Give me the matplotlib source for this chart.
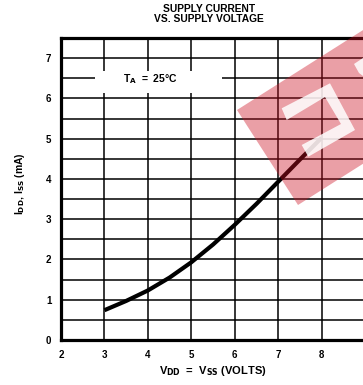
import numpy as np
import matplotlib
matplotlib.use("Agg")
import matplotlib.pyplot as plt
from matplotlib.patches import Polygon, Rectangle

plt.rcParams['font.family'] = ['Liberation Sans', 'DejaVu Sans']
plt.rcParams['font.weight'] = 'bold'
plt.rcParams['mathtext.default'] = 'bf'

# supply current
vdd = [3, 3.5, 4, 4.5, 5, 5.5, 6, 6.5, 7, 7.5, 8]
idd = [0.74, 0.97, 1.23, 1.55, 1.93, 2.37, 2.86, 3.38, 3.93, 4.48, 5.02]

x_ticks = [2, 3, 4, 5, 6, 7, 8, 9]
x_labels = ['2', '3', '4', '5', '6', '7', '8', '']
y_ticks = [0, 1, 2, 3, 4, 5, 6, 7]
y_half = [0.5, 1.5, 2.5, 3.5, 4.5, 5.5, 6.5]

W, H = 363, 385
fig = plt.figure(figsize=(W / 100, H / 100), dpi=100)
ax = fig.add_axes([61 / W, 1 - 340 / H, 304 / W, 302 / H])
ax.set_xlim(2, 9)
ax.set_ylim(0, 7.5)

# grid
for x in x_ticks[1:]:
    ax.axvline(x, color='black', lw=1.1, zorder=1)
for y in y_ticks[1:] + y_half:
    ax.axhline(y, color='black', lw=1.1, zorder=1)

# white box behind the temperature label
ax.add_patch(Rectangle((2.78, 6.14), 2.92, 0.54, facecolor='white',
                       edgecolor='none', zorder=2))
ax.text(4.05, 6.47, r'T$_A$  =  25°C', fontsize=7.5, ha='center',
        va='center', zorder=3)

ax.plot(vdd, idd, color='black', lw=3.0, solid_capstyle='butt', zorder=4)

for s in ['left', 'bottom', 'top']:
    ax.spines[s].set_linewidth(2.3)
ax.spines['right'].set_visible(False)

ax.set_xticks(x_ticks)
ax.set_xticklabels(x_labels)
ax.set_yticks(y_ticks)
ax.tick_params(length=0, labelsize=7, pad=7)
for lab in ax.get_xticklabels() + ax.get_yticklabels():
    lab.set_fontweight('bold')

fig.text(213 / W, 1 - 371 / H, r'V$_{DD}$  =  V$_{SS}$ (VOLTS)',
         fontsize=8, ha='center', va='center')
fig.text(20 / W, 1 - 184 / H, r'I$_{DD}$, I$_{SS}$ (mA)', fontsize=7.5,
         ha='center', va='center', rotation=90)
fig.text(209 / W, 1 - 14 / H, 'SUPPLY CURRENT\nVS. SUPPLY VOLTAGE',
         fontsize=7.4, ha='center', va='center', linespacing=0.9)


# watermark (pixel coords -> figure fraction)
def px(pts):
    return [(x / W, 1 - y / H) for x, y in pts]


fig.patches.append(Polygon(px([(237, 110), (401, 6), (462, 101), (298, 205)]),
                           closed=True, transform=fig.transFigure,
                           facecolor='#cc1122', alpha=0.4, edgecolor='none',
                           zorder=10))
fig.patches.append(Polygon(px([(281.7, 108.3), (330, 83.3), (355, 130),
                               (308.3, 156.7), (301.7, 145), (341, 124),
                               (325, 97), (286.7, 120)]),
                           closed=True, transform=fig.transFigure,
                           facecolor='white', alpha=0.85, edgecolor='none',
                           zorder=11))
fig.patches.append(Polygon(px([(354, 64), (363, 58), (363, 76), (359, 73)]),
                           closed=True, transform=fig.transFigure,
                           facecolor='white', alpha=0.85, edgecolor='none',
                           zorder=11))

fig.savefig('out.png', dpi=100)
